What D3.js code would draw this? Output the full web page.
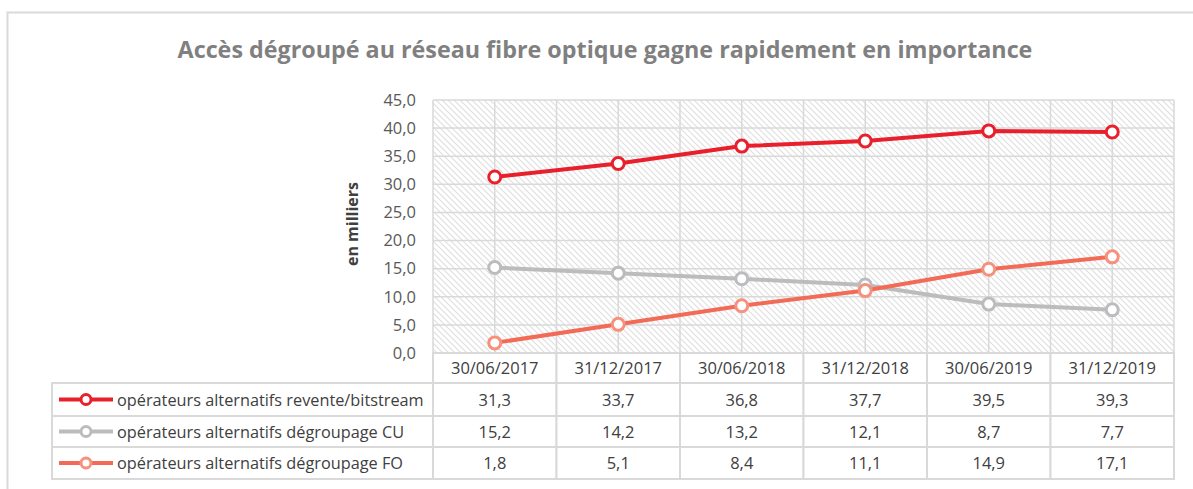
<!DOCTYPE html>
<html>
<head>
<meta charset="utf-8">
<script src="https://cdn.jsdelivr.net/npm/d3@7"></script>
<style>
  body { margin: 0; background: #fff; }
  svg text { font-family: "Open Sans", sans-serif; }
</style>
</head>
<body>
<div id="chart"></div>
<script>
// Set up conventions
let width = 1193;
let height = 489;
let plot = ({top: 100, right: 1174, bottom: 353, left: 433});

let title = "Accès dégroupé au réseau fibre optique gagne rapidement en importance";
let yLabel = "en milliers";

let dates = ["30/06/2017", "31/12/2017", "30/06/2018", "31/12/2018", "30/06/2019", "31/12/2019"];
let seriesNames = ["opérateurs alternatifs revente/bitstream", "opérateurs alternatifs dégroupage CU", "opérateurs alternatifs dégroupage FO"];
let bitstream = [31.3, 33.7, 36.8, 37.7, 39.5, 39.3];
let degroupageCU = [15.2, 14.2, 13.2, 12.1, 8.7, 7.7];
let degroupageFO = [1.8, 5.1, 8.4, 11.1, 14.9, 17.1];
let yTicks = [0, 5, 10, 15, 20, 25, 30, 35, 40, 45];

let lineColors = ["#e8202c", "#bcbcbf", "#f26b57"];
let markerColors = ["#e8202c", "#bcbcbf", "#f5917d"];

let series = [bitstream, degroupageCU, degroupageFO];
let fmt = v => d3.format(".1f")(v).replace(".", ",");

let svg = d3.select("#chart")
    .append("svg")
    .attr("width", width)
    .attr("height", height)

// outer chart border
svg.append("rect")
    .attr("x", 7.5).attr("y", 12.5)
    .attr("width", 1200).attr("height", 500)
    .attr("fill", "white")
    .attr("stroke", "#d9d9d9")
    .attr("stroke-width", 2)

// hatch pattern for the plot area
let pat = svg.append("defs").append("pattern")
    .attr("id", "hatch")
    .attr("patternUnits", "userSpaceOnUse")
    .attr("width", 6).attr("height", 6)
pat.append("path")
    .attr("d", "M-1,-1 L7,7 M-1,5 L1,7 M5,-1 L7,1")
    .attr("stroke", "#dedede")
    .attr("stroke-width", 1.1)

// Scales
let xScale = d3.scaleBand()
    .domain(dates)
    .range([plot.left, plot.right])

let yScale = d3.scaleLinear()
    .domain([0, 45])
    .range([plot.bottom, plot.top])

let cx = d => xScale(d) + xScale.bandwidth() / 2

svg.append("rect")
    .attr("x", plot.left).attr("y", plot.top)
    .attr("width", plot.right - plot.left)
    .attr("height", plot.bottom - plot.top)
    .attr("fill", "url(#hatch)")

// gridlines
let grid = svg.append("g").attr("class", "grid")
grid.selectAll(".hgrid")
    .data(yTicks)
    .enter().append("line")
    .attr("x1", plot.left).attr("x2", plot.right)
    .attr("y1", d => yScale(d)).attr("y2", d => yScale(d))
    .attr("stroke", "#d9d9d9").attr("stroke-width", 1.5)

let vPos = [];
dates.forEach(d => { vPos.push(xScale(d)); vPos.push(cx(d)); });
vPos.push(plot.right);
grid.selectAll(".vgrid")
    .data(vPos)
    .enter().append("line")
    .attr("x1", d => d).attr("x2", d => d)
    .attr("y1", plot.top).attr("y2", plot.bottom)
    .attr("stroke", "#d9d9d9").attr("stroke-width", 1.5)

// y axis
let yAxis = d3.axisLeft(yScale).tickValues(yTicks).tickFormat(fmt).tickSize(0).tickPadding(17)
let yg = svg.append("g")
    .attr("transform", "translate(" + plot.left + ",0)")
    .call(yAxis)
yg.select(".domain").remove()
yg.selectAll("text")
    .style("font-family", "Open Sans")
    .style("font-size", "16.5px")
    .attr("fill", "#595959")

// title and axis label
svg.append("text")
    .attr("x", 605).attr("y", 58)
    .attr("text-anchor", "middle")
    .style("font-size", "23.3px")
    .style("font-weight", "bold")
    .attr("fill", "#808080")
    .text(title)

svg.append("text")
    .attr("transform", "translate(358,224) rotate(-90)")
    .attr("text-anchor", "middle")
    .style("font-size", "16px")
    .style("font-weight", "bold")
    .attr("fill", "#404040")
    .text(yLabel)

// lines
let line = d3.line()
    .x((d, i) => cx(dates[i]))
    .y(d => yScale(d))

series.forEach((s, k) => {
    svg.append("path")
        .datum(s)
        .attr("d", line)
        .attr("fill", "none")
        .attr("stroke", lineColors[k])
        .attr("stroke-width", 4)
        .attr("stroke-linejoin", "round")
})
series.forEach((s, k) => {
    svg.selectAll(".m" + k)
        .data(s)
        .enter().append("circle")
        .attr("cx", (d, i) => cx(dates[i]))
        .attr("cy", d => yScale(d))
        .attr("r", 6)
        .attr("fill", "white")
        .attr("stroke", markerColors[k])
        .attr("stroke-width", 3)
})

// data table
let rowY = [353, 383, 416, 447, 479];
let tableLeft = 52;
let tbl = svg.append("g").attr("class", "table")
let borderColor = "#d9d9d9";

// header row (categories)
tbl.selectAll(".hdr")
    .data(dates)
    .enter().append("rect")
    .attr("x", d => xScale(d)).attr("y", rowY[0])
    .attr("width", xScale.bandwidth()).attr("height", rowY[1] - rowY[0])
    .attr("fill", "white").attr("stroke", borderColor).attr("stroke-width", 2)
tbl.selectAll(".hdrText")
    .data(dates)
    .enter().append("text")
    .attr("x", d => cx(d)).attr("y", (rowY[0] + rowY[1]) / 2 + 6)
    .attr("text-anchor", "middle")
    .style("font-size", "16.5px")
    .attr("fill", "#404040")
    .text(d => d)

series.forEach((s, k) => {
    let y0 = rowY[k + 1], y1 = rowY[k + 2], ym = (y0 + y1) / 2;
    tbl.append("rect")
        .attr("x", tableLeft).attr("y", y0)
        .attr("width", plot.left - tableLeft).attr("height", y1 - y0)
        .attr("fill", "white").attr("stroke", borderColor).attr("stroke-width", 2)
    tbl.selectAll(".cell" + k)
        .data(dates)
        .enter().append("rect")
        .attr("x", d => xScale(d)).attr("y", y0)
        .attr("width", xScale.bandwidth()).attr("height", y1 - y0)
        .attr("fill", "white").attr("stroke", borderColor).attr("stroke-width", 2)
    tbl.selectAll(".val" + k)
        .data(s)
        .enter().append("text")
        .attr("x", (d, i) => cx(dates[i])).attr("y", ym + 6)
        .attr("text-anchor", "middle")
        .style("font-size", "16.5px")
        .attr("fill", "#404040")
        .text(d => fmt(d))
    // legend key
    tbl.append("line")
        .attr("x1", 59).attr("x2", 113)
        .attr("y1", ym).attr("y2", ym)
        .attr("stroke", lineColors[k]).attr("stroke-width", 4)
    tbl.append("circle")
        .attr("cx", 86).attr("cy", ym).attr("r", 5)
        .attr("fill", "white").attr("stroke", markerColors[k]).attr("stroke-width", 3)
    tbl.append("text")
        .attr("x", 117).attr("y", ym + 6)
        .style("font-size", "16.3px")
        .attr("fill", "#404040")
        .text(seriesNames[k])
})
</script>
</body>
</html>
